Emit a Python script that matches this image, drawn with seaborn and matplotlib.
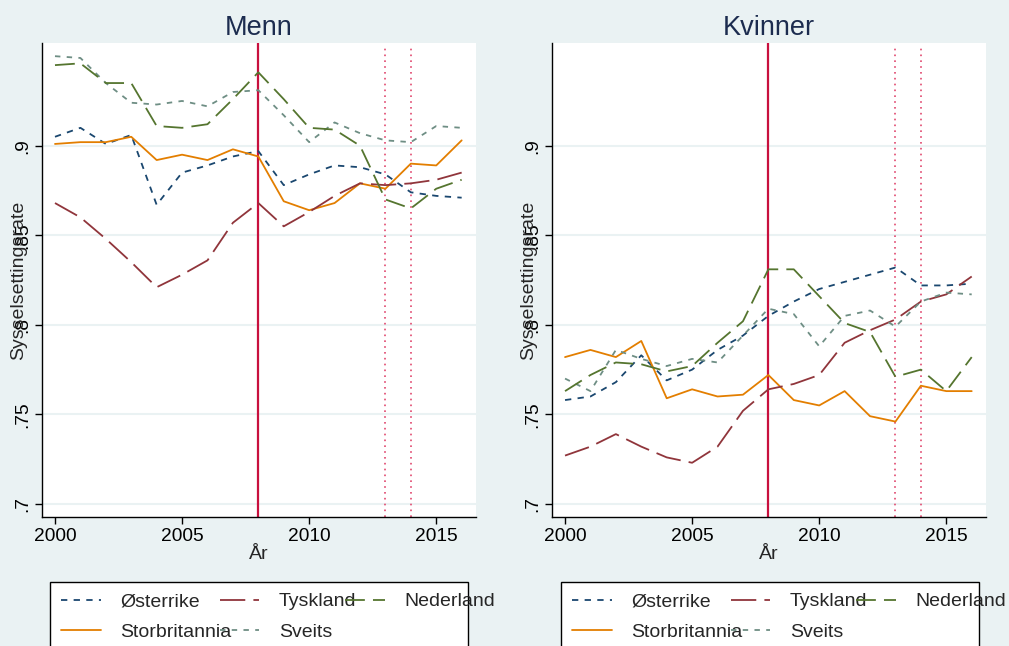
import matplotlib
matplotlib.use("Agg")
import matplotlib.pyplot as plt
import pandas as pd
import seaborn as sns
from matplotlib.patches import Rectangle
from matplotlib.ticker import FuncFormatter

sns.set_style("white")
plt.rcParams["font.family"] = ["Liberation Sans", "DejaVu Sans"]

years = list(range(2000, 2017))

# Menn
menn_osterrike = [0.905, 0.910, 0.901, 0.906, 0.867, 0.885, 0.889, 0.894, 0.897, 0.878, 0.884, 0.889, 0.888, 0.884, 0.874, 0.872, 0.871]
menn_tyskland = [0.868, 0.860, 0.848, 0.835, 0.821, 0.828, 0.836, 0.857, 0.868, 0.855, 0.863, 0.872, 0.879, 0.878, 0.879, 0.881, 0.885]
menn_nederland = [0.945, 0.946, 0.935, 0.935, 0.911, 0.910, 0.912, 0.926, 0.941, 0.926, 0.910, 0.909, 0.900, 0.870, 0.865, 0.876, 0.881]
menn_storbritannia = [0.901, 0.902, 0.902, 0.905, 0.892, 0.895, 0.892, 0.898, 0.894, 0.869, 0.864, 0.868, 0.879, 0.876, 0.890, 0.889, 0.903]
menn_sveits = [0.950, 0.949, 0.935, 0.924, 0.923, 0.925, 0.922, 0.930, 0.931, 0.917, 0.902, 0.913, 0.907, 0.903, 0.902, 0.911, 0.910]

# Kvinner
kvinner_osterrike = [0.758, 0.760, 0.768, 0.783, 0.769, 0.775, 0.786, 0.794, 0.805, 0.813, 0.820, 0.824, 0.828, 0.832, 0.822, 0.822, 0.823]
kvinner_tyskland = [0.727, 0.732, 0.739, 0.732, 0.726, 0.723, 0.732, 0.752, 0.764, 0.767, 0.772, 0.790, 0.797, 0.803, 0.813, 0.817, 0.827]
kvinner_nederland = [0.763, 0.772, 0.779, 0.778, 0.774, 0.777, 0.790, 0.802, 0.831, 0.831, 0.816, 0.801, 0.796, 0.771, 0.775, 0.763, 0.782]
kvinner_storbritannia = [0.782, 0.786, 0.782, 0.791, 0.759, 0.764, 0.760, 0.761, 0.772, 0.758, 0.755, 0.763, 0.749, 0.746, 0.766, 0.763, 0.763]
kvinner_sveits = [0.770, 0.763, 0.786, 0.781, 0.777, 0.781, 0.779, 0.794, 0.809, 0.806, 0.788, 0.805, 0.808, 0.799, 0.813, 0.818, 0.817]

series = {
    "Menn": {
        "Østerrike": menn_osterrike,
        "Tyskland": menn_tyskland,
        "Nederland": menn_nederland,
        "Storbritannia": menn_storbritannia,
        "Sveits": menn_sveits,
    },
    "Kvinner": {
        "Østerrike": kvinner_osterrike,
        "Tyskland": kvinner_tyskland,
        "Nederland": kvinner_nederland,
        "Storbritannia": kvinner_storbritannia,
        "Sveits": kvinner_sveits,
    },
}

rows = []
for kjonn, land_data in series.items():
    for land, values in land_data.items():
        for aar, v in zip(years, values):
            rows.append({"kjonn": kjonn, "land": land, "aar": aar, "rate": v})
df = pd.DataFrame(rows)

# column-major legend order -> rows: Østerrike Tyskland Nederland / Storbritannia Sveits
order = ["Østerrike", "Storbritannia", "Tyskland", "Sveits", "Nederland"]
colors = {
    "Østerrike": "#1a476f",
    "Tyskland": "#90353b",
    "Nederland": "#55752f",
    "Storbritannia": "#e37e00",
    "Sveits": "#6e8e84",
}
dashes = {
    "Østerrike": (3.5, 3.5),
    "Tyskland": (14, 4.5),
    "Nederland": (11, 4.5),
    "Storbritannia": "",
    "Sveits": (3, 3.5),
}

BG = "#eaf2f3"
fig = plt.figure(figsize=(10.09, 6.46), dpi=100, facecolor=BG)
ax_m = fig.add_axes([0.0419, 0.2002, 0.4295, 0.7328])
ax_k = fig.add_axes([0.5474, 0.2002, 0.4295, 0.7328])

for ax, kjonn, leg_x in [(ax_m, "Menn", 50), (ax_k, "Kvinner", 561)]:
    ax.set_facecolor("white")
    ax.yaxis.grid(True, color=BG, lw=1.5, zorder=0)
    ax.xaxis.grid(False)
    ax.axvline(2008, color="#c8103e", lw=1.6, zorder=1)
    for yr in (2013, 2014):
        ax.axvline(yr, color="#e0486e", lw=1.2, ls=(0, (1, 2.5)), ymax=0.99, zorder=1)

    sns.lineplot(
        data=df[df["kjonn"] == kjonn], x="aar", y="rate",
        hue="land", style="land", hue_order=order, style_order=order,
        palette=colors, dashes=dashes, lw=1.3, ax=ax, zorder=3,
    )

    ax.set_xlim(1999.5, 2016.55)
    ax.set_ylim(0.6929, 0.9572)
    ax.set_xticks([2000, 2005, 2010, 2015])
    ax.set_yticks([0.7, 0.75, 0.8, 0.85, 0.9])
    ax.yaxis.set_major_formatter(FuncFormatter(lambda v, p: f"{v:g}".lstrip("0")))
    ax.tick_params(axis="both", length=5, width=1, color="black", labelsize=13.8,
                   labelcolor="black", pad=3, bottom=True, left=True)
    for lab in ax.get_yticklabels():
        lab.set_rotation(90)
        lab.set_va("center")
    for side in ("top", "right"):
        ax.spines[side].set_visible(False)
    for side in ("left", "bottom"):
        ax.spines[side].set_color("black")
        ax.spines[side].set_linewidth(1)

    ax.set_title(kjonn, fontsize=19.5, color="#1c2c4f", pad=6)
    ax.set_xlabel("År", fontsize=14, labelpad=1)
    ax.set_ylabel("Sysselsettingsrate", fontsize=14)
    ax.yaxis.set_label_coords(-0.034, 0.5)

    # fixed-width legend box (text may run over its edge, as in the original)
    fig.add_artist(Rectangle(
        (leg_x / 1009, -0.02), 418 / 1009, (646 - 582.3) / 646 + 0.02,
        transform=fig.transFigure, facecolor="white", edgecolor="black", lw=1, zorder=-1,
    ))
    handles, labels = ax.get_legend_handles_labels()
    ax.legend(
        handles, labels, loc="upper left",
        bbox_to_anchor=(leg_x / 1009, 1 - 582 / 646), bbox_transform=fig.transFigure,
        ncol=3, frameon=False, fontsize=14, handlelength=2.05, handletextpad=1.0,
        columnspacing=-0.6, borderpad=0.55, labelspacing=0.68, borderaxespad=0,
    )

fig.savefig("out.png", dpi=100, facecolor=BG)
